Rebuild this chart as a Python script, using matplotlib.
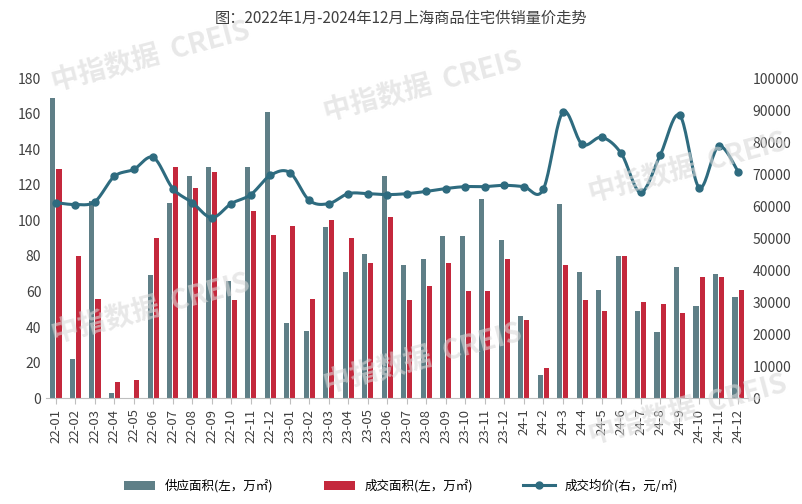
import numpy as np
import matplotlib
matplotlib.use("Agg")
import matplotlib.pyplot as plt
plt.rcParams['font.family'] = ['Noto Sans CJK SC']

months = ["22-01","22-02","22-03","22-04","22-05","22-06","22-07","22-08","22-09","22-10","22-11","22-12",
          "23-01","23-02","23-03","23-04","23-05","23-06","23-07","23-08","23-09","23-10","23-11","23-12",
          "24-1","24-2","24-3","24-4","24-5","24-6","24-7","24-8","24-9","24-10","24-11","24-12"]
supply = [169,22,111,3,0,69,110,125,130,66,130,161,42,38,96,71,81,125,75,78,91,91,112,89,
          46,13,109,71,61,80,49,37,74,52,70,57]
deal = [129,80,56,9,10,90,130,118,127,55,105,92,97,56,100,90,76,102,55,63,76,60,60,78,
        44,17,75,55,49,80,54,53,48,68,68,61]
price = [61100,60500,61400,69300,71500,75200,65500,61100,56400,60800,63600,69600,
         70500,61800,60800,63900,63900,63600,63900,64600,65500,66100,66100,66500,
         66100,65200,89300,79300,81500,76500,64300,75900,88400,65800,78700,70800]

def smooth(x, y, n=20):
    x = np.asarray(x, float); y = np.asarray(y, float)
    P = np.column_stack([x, y])
    P = np.vstack([P[0], P, P[-1]])
    out = []
    for i in range(1, len(P)-2):
        p0, p1, p2, p3 = P[i-1], P[i], P[i+1], P[i+2]
        for t in np.linspace(0, 1, n, endpoint=False):
            t2, t3 = t*t, t*t*t
            out.append(0.5*((2*p1) + (-p0+p2)*t + (2*p0-5*p1+4*p2-p3)*t2 + (-p0+3*p1-3*p2+p3)*t3))
    out.append(P[-2])
    out = np.array(out)
    return out[:, 0], out[:, 1]

fig = plt.figure(figsize=(8.02, 5.04), dpi=100)
ax = fig.add_axes([0.0575, 0.21, 0.875, 0.635])
ax2 = ax.twinx()
x = np.arange(len(months))
w = 0.26
ax.bar(x - w/2 - 0.03, supply, w, color='#5f7f87', label='供应面积(左，万㎡)')
ax.bar(x + w/2 + 0.03, deal, w, color='#c4283c', label='成交面积(左，万㎡)')
sx, sy = smooth(x, price)
ax2.plot(sx, sy, color='#2e6b7f', lw=2.2)
ax2.plot(x, price, 'o', color='#2e6b7f', ms=5)
ax2.plot([], [], color='#2e6b7f', lw=2.2, marker='o', ms=5, label='成交均价(右，元/㎡)')

ax.set_xlim(-0.5, len(months)-0.5)
ax.set_ylim(0, 180); ax.set_yticks(range(0, 181, 20))
ax2.set_ylim(0, 100000); ax2.set_yticks(range(0, 100001, 10000))
ax.set_xticks(x); ax.set_xticklabels(months, rotation=90, fontsize=9.5, color='#404040')
for a in (ax, ax2):
    a.tick_params(axis='y', length=0, labelsize=10, colors='#404040')
    for s in a.spines.values(): s.set_visible(False)
ax.spines['bottom'].set_visible(True); ax.spines['bottom'].set_color('#bfbfbf')
ax.tick_params(axis='x', length=4, color='#bfbfbf')

fig.text(0.5, 0.955, '图：2022年1月-2024年12月上海商品住宅供销量价走势', ha='center', fontsize=11, color='#404040')
h1, l1 = ax.get_legend_handles_labels(); h2, l2 = ax2.get_legend_handles_labels()
fig.legend(h1+h2, l1+l2, loc='lower center', bbox_to_anchor=(0.5, 0.0), ncol=3, frameon=False,
           fontsize=9, columnspacing=4, handlelength=2.5)
for (tx, ty) in [(0.06, 0.82), (0.4, 0.76), (0.73, 0.6), (0.06, 0.32), (0.4, 0.22), (0.73, 0.12)]:
    fig.text(tx, ty, '中指数据  CREIS', fontsize=20, color='#d9d9d9', alpha=0.6, rotation=15,
             fontweight='bold', transform=fig.transFigure, zorder=0)
fig.savefig('out.png', dpi=100)
